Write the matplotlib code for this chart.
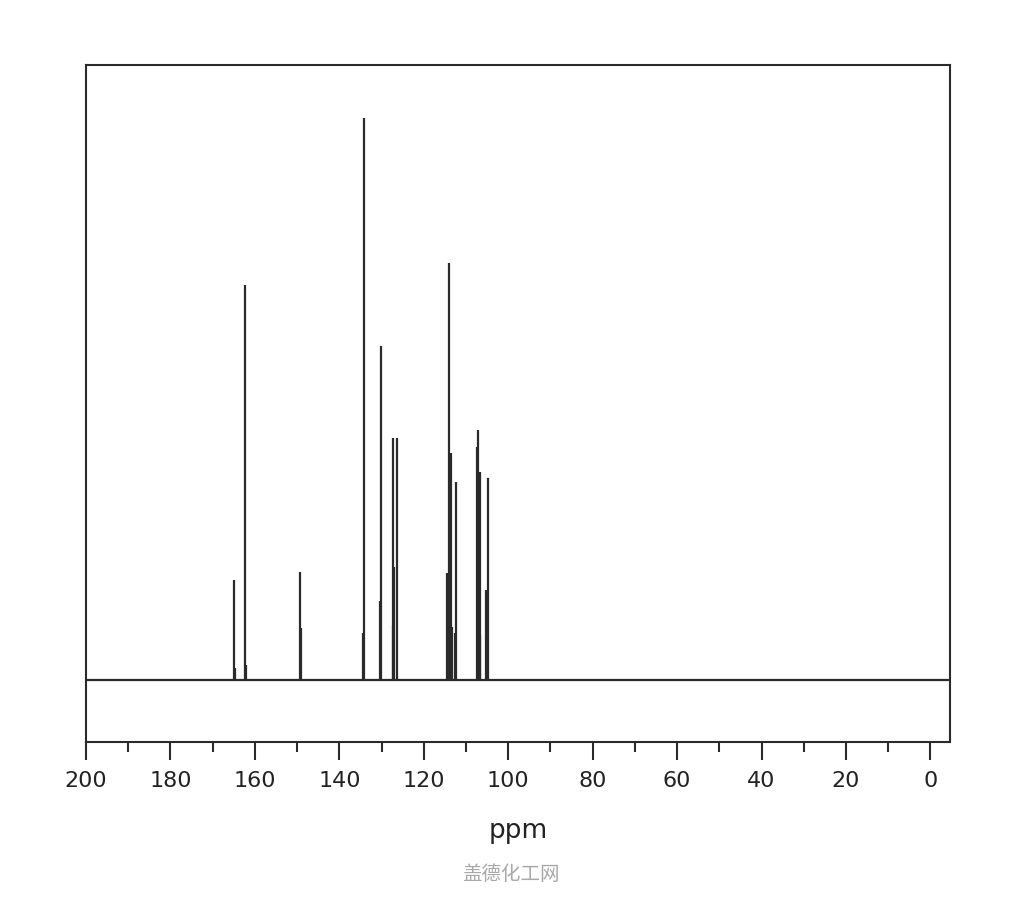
import matplotlib
matplotlib.use("Agg")
import matplotlib.pyplot as plt
from matplotlib.ticker import MultipleLocator

# =========================
# Data
# =========================
# 13C line positions (ppm) and heights (arbitrary units, baseline = 0)
PEAK_PPM = [
    165.0, 164.6,
    162.3, 162.0,
    149.3, 149.1,
    134.1, 134.3,
    130.1, 130.3,
    127.4, 127.0, 127.2, 126.4,
    114.4, 114.0, 113.6, 113.2, 112.6, 112.4,
    107.3, 107.1, 106.8, 106.6, 105.3, 104.9,
]
PEAK_HEIGHT = [
    100, 12,
    395, 15,
    108, 52,
    562, 47,
    334, 79,
    55, 113, 242, 242,
    107, 417, 227, 53, 47, 198,
    233, 250, 208, 45, 90, 202,
]

MAJOR_TICKS = [200, 180, 160, 140, 120, 100, 80, 60, 40, 20, 0]
X_LABEL = "ppm"
WATERMARK = "盖德化工网"

LINE_COLOR = "#2a2a2a"

# =========================
# Figure
# =========================
fig = plt.figure(figsize=(10.24, 9.0), dpi=100)
ax = fig.add_axes([0.084, 0.1756, 0.844, 0.7522])

ax.axhline(0, color=LINE_COLOR, lw=1.6, zorder=2)
ax.vlines(PEAK_PPM, 0, PEAK_HEIGHT, color=LINE_COLOR, lw=1.6, zorder=3)

ax.set_xlim(200, -4.7)
ax.set_ylim(-62, 615)

for sp in ax.spines.values():
    sp.set_color(LINE_COLOR)
    sp.set_linewidth(1.5)

ax.set_yticks([])
ax.set_xticks(MAJOR_TICKS)
ax.set_xticklabels([str(t) for t in MAJOR_TICKS])
ax.xaxis.set_minor_locator(MultipleLocator(10))
ax.tick_params(axis="x", which="major", direction="out", length=13,
               width=1.5, color=LINE_COLOR, pad=8, labelsize=16,
               labelcolor="#222222")
ax.tick_params(axis="x", which="minor", direction="out", length=7,
               width=1.5, color=LINE_COLOR)

fig.text(0.506, 1 - 831 / 900, X_LABEL, ha="center", va="center",
         fontsize=19, color="#222222")
fig.text(0.499, 1 - 875 / 900, WATERMARK, ha="center", va="center",
         fontsize=14, color="#a8a8a8",
         family=["Noto Sans CJK SC", "DejaVu Sans"])

fig.savefig("out.png", dpi=100, facecolor="white")
